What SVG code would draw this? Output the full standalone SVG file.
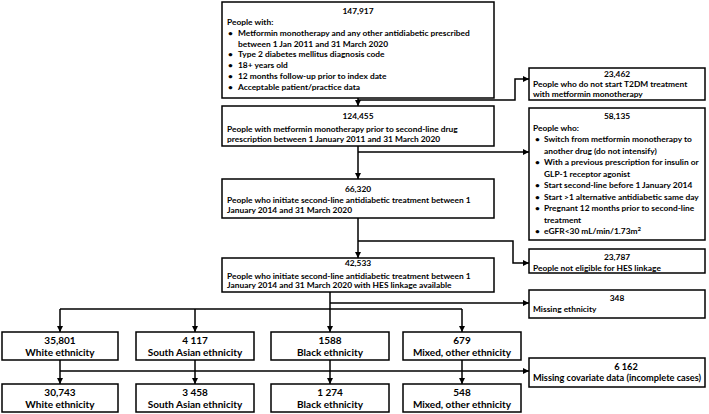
<svg xmlns="http://www.w3.org/2000/svg" width="709" height="414" viewBox="0 0 709 414">
<style>
.box{fill:#fff;stroke:#000;stroke-width:1.5}
.ln{fill:none;stroke:#000;stroke-width:1.5}
text{font-family:Lato,"Liberation Sans",sans-serif;font-weight:bold;font-size:8.4px;fill:#000}
.c{text-anchor:middle}
.big{font-size:10px}
.mid{font-size:9.2px}
</style>
<defs>
<marker id="ah" markerUnits="userSpaceOnUse" markerWidth="6" markerHeight="6" refX="6" refY="3" orient="auto">
<path d="M0,0 L6,3 L0,6 z" fill="#000"/>
</marker>
</defs>
<g id="connectors">
<path class="ln" d="M358,98 V106" marker-end="url(#ah)"/>
<path class="ln" d="M358,100 H515 V79 H529" marker-end="url(#ah)"/>
<path class="ln" d="M358,146 V179" marker-end="url(#ah)"/>
<path class="ln" d="M358,152 H529" marker-end="url(#ah)"/>
<path class="ln" d="M358,218 V258" marker-end="url(#ah)"/>
<path class="ln" d="M358,241 H513 V263 H529" marker-end="url(#ah)"/>
<path class="ln" d="M330,292 V332" marker-end="url(#ah)"/>
<path class="ln" d="M330,303 H529" marker-end="url(#ah)"/>
<path class="ln" d="M60,309 H462"/>
<path class="ln" d="M60,309 V332" marker-end="url(#ah)"/>
<path class="ln" d="M195,309 V332" marker-end="url(#ah)"/>
<path class="ln" d="M462,309 V332" marker-end="url(#ah)"/>
<path class="ln" d="M60,371 H529" marker-end="url(#ah)"/>
<path class="ln" d="M60,360 V384" marker-end="url(#ah)"/>
<path class="ln" d="M195,360 V384" marker-end="url(#ah)"/>
<path class="ln" d="M330,360 V384" marker-end="url(#ah)"/>
<path class="ln" d="M462,360 V384" marker-end="url(#ah)"/>
</g>
<g id="n147917">
<rect class="box" x="222" y="2" width="272" height="96"/>
<text class="c" x="358" y="13.5">147,917</text>
<text x="227" y="24.5">People with:</text>
<text x="228" y="36">•</text><text x="238" y="36">Metformin monotherapy and any other antidiabetic prescribed</text>
<text x="238" y="46.5">between 1 Jan 2011 and 31 March 2020</text>
<text x="228" y="57">•</text><text x="238" y="57">Type 2 diabetes mellitus diagnosis code</text>
<text x="228" y="67.5">•</text><text x="238" y="67.5">18+ years old</text>
<text x="228" y="78.5">•</text><text x="238" y="78.5">12 months follow-up prior to index date</text>
<text x="228" y="89.5">•</text><text x="238" y="89.5">Acceptable patient/practice data</text>
</g>
<g id="n23462">
<rect class="box" x="529" y="68" width="176" height="32"/>
<text class="c" x="617" y="77">23,462</text>
<text x="533" y="87">People who do not start T2DM treatment</text>
<text x="533" y="96.5">with metformin monotherapy</text>
</g>
<g id="n124455">
<rect class="box" x="222" y="106" width="272" height="40"/>
<text class="c" x="358" y="118.5">124,455</text>
<text x="227" y="131.5">People with metformin monotherapy prior to second-line drug</text>
<text x="227" y="141.5">prescription between 1 January 2011 and 31 March 2020</text>
</g>
<g id="n58135">
<rect class="box" x="529" y="108" width="176" height="132"/>
<text class="c" x="617" y="119">58,135</text>
<text x="533" y="130.5">People who:</text>
<text x="535" y="142">•</text><text x="544" y="142">Switch from metformin monotherapy to</text>
<text x="544" y="153.5">another drug (do not intensify)</text>
<text x="535" y="165">•</text><text x="544" y="165">With a previous prescription for insulin or</text>
<text x="544" y="176.5">GLP-1 receptor agonist</text>
<text x="535" y="188">•</text><text x="544" y="188">Start second-line before 1 January 2014</text>
<text x="535" y="199.5">•</text><text x="544" y="199.5">Start &gt;1 alternative antidiabetic same day</text>
<text x="535" y="211">•</text><text x="544" y="211">Pregnant 12 months prior to second-line</text>
<text x="544" y="222.5">treatment</text>
<text x="535" y="234">•</text><text x="544" y="234">eGFR&lt;30 mL/min/1.73m<tspan dy="-3" font-size="6px">2</tspan></text>
</g>
<g id="n66320">
<rect class="box" x="222" y="179" width="272" height="39"/>
<text class="c" x="358" y="191.5">66,320</text>
<text x="227" y="203">People who initiate second-line antidiabetic treatment between 1</text>
<text x="227" y="213">January 2014 and 31 March 2020</text>
</g>
<g id="n23787">
<rect class="box" x="529" y="249" width="176" height="24"/>
<text class="c" x="617" y="260">23,787</text>
<text x="533" y="270.5">People not eligible for HES linkage</text>
</g>
<g id="n42533">
<rect class="box" x="222" y="258" width="272" height="34"/>
<text class="c" x="358" y="266">42,533</text>
<text x="227" y="278.5">People who initiate second-line antidiabetic treatment between 1</text>
<text x="227" y="288">January 2014 and 31 March 2020 with HES linkage available</text>
</g>
<g id="n348">
<rect class="box" x="529" y="290" width="176" height="28"/>
<text class="c" x="617" y="300.5">348</text>
<text x="533" y="311.5">Missing ethnicity</text>
</g>
<g id="n35801">
<rect class="box" x="2" y="332" width="116" height="28"/>
<text class="c big" x="60" y="343.5">35,801</text>
<text class="c big" x="60" y="355.5">White ethnicity</text>
</g>
<g id="n4117">
<rect class="box" x="136" y="332" width="118" height="28"/>
<text class="c big" x="195" y="343.5">4 117</text>
<text class="c big" x="195" y="355.5">South Asian ethnicity</text>
</g>
<g id="n1588">
<rect class="box" x="271" y="332" width="118" height="28"/>
<text class="c big" x="330" y="343.5">1588</text>
<text class="c big" x="330" y="355.5">Black ethnicity</text>
</g>
<g id="n679">
<rect class="box" x="403" y="332" width="118" height="28"/>
<text class="c big" x="462" y="343.5">679</text>
<text class="c big" x="462" y="355.5">Mixed, other ethnicity</text>
</g>
<g id="n6162">
<rect class="box" x="529" y="358" width="176" height="29"/>
<text class="c mid" x="626" y="369.5">6 162</text>
<text class="c mid" x="617" y="381">Missing covariate data (incomplete cases)</text>
</g>
<g id="n30743">
<rect class="box" x="2" y="384" width="116" height="28"/>
<text class="c big" x="60" y="395.5">30,743</text>
<text class="c big" x="60" y="407.5">White ethnicity</text>
</g>
<g id="n3458">
<rect class="box" x="136" y="384" width="118" height="28"/>
<text class="c big" x="195" y="395.5">3 458</text>
<text class="c big" x="195" y="407.5">South Asian ethnicity</text>
</g>
<g id="n1274">
<rect class="box" x="271" y="384" width="118" height="28"/>
<text class="c big" x="330" y="395.5">1 274</text>
<text class="c big" x="330" y="407.5">Black ethnicity</text>
</g>
<g id="n548">
<rect class="box" x="403" y="384" width="118" height="28"/>
<text class="c big" x="462" y="395.5">548</text>
<text class="c big" x="462" y="407.5">Mixed, other ethnicity</text>
</g>
</svg>
